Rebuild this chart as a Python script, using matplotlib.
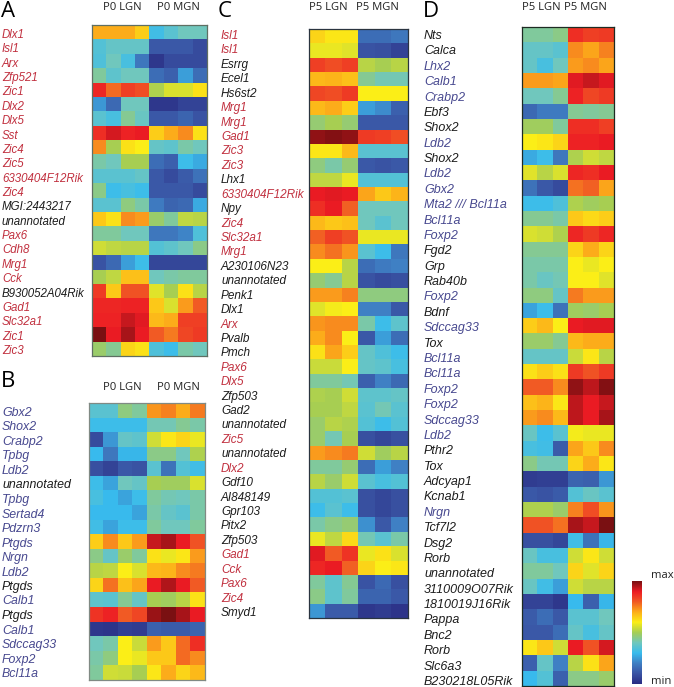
"""
Expression heatmaps for LGN / MGN genes, four panels plus a colour key
"""

import numpy as np
import matplotlib
matplotlib.use('Agg')
import matplotlib.pyplot as plt
from matplotlib.colors import LinearSegmentedColormap

W, H = 674, 687

RED = '#c1303f'
BLUE = '#47488f'
BLACK = '#1c1c1c'

a_genes = ['Dlx1', 'Isl1', 'Arx', 'Zfp521', 'Zic1', 'Dlx2', 'Dlx5', 'Sst', 'Zic4', 'Zic5',
           '6330404F12Rik', 'Zic4', 'MGI:2443217', 'unannotated', 'Pax6', 'Cdh8', 'Mrg1', 'Cck',
           'B930052A04Rik', 'Gad1', 'Slc32a1', 'Zic1', 'Zic3']
a_kinds = 'rrrrrrrrrrrrkkrrrrkrrrr'
a_values = [
    [70, 70, 70, 65, 32, 36, 40, 40],
    [35, 38, 38, 38, 11, 11, 11, 8],
    [34, 40, 33, 18, 3, 8, 8, 8],
    [43, 37, 40, 40, 16, 13, 25, 16],
    [88, 78, 84, 82, 51, 56, 56, 62],
    [24, 15, 40, 40, 3, 3, 6, 6],
    [36, 33, 44, 39, 11, 11, 14, 10],
    [87, 92, 89, 90, 65, 70, 74, 62],
    [74, 50, 62, 60, 38, 37, 42, 40],
    [42, 40, 50, 50, 16, 13, 31, 27],
    [36, 36, 36, 38, 11, 8, 12, 17],
    [45, 31, 33, 31, 11, 11, 11, 8],
    [36, 36, 46, 42, 19, 14, 15, 27],
    [66, 62, 74, 72, 48, 43, 53, 52],
    [43, 43, 40, 40, 18, 18, 21, 34],
    [55, 53, 52, 52, 35, 37, 40, 45],
    [10, 15, 25, 31, 7, 7, 7, 7],
    [50, 53, 67, 67, 40, 42, 43, 43],
    [85, 66, 81, 81, 57, 50, 62, 52],
    [88, 88, 89, 89, 66, 56, 72, 80],
    [89, 89, 93, 91, 68, 70, 84, 84],
    [100, 90, 96, 90, 80, 76, 83, 85],
    [48, 44, 64, 62, 34, 31, 42, 40],
]

b_genes = ['Gbx2', 'Shox2', 'Crabp2', 'Tpbg', 'Ldb2', 'unannotated', 'Tpbg', 'Sertad4', 'Pdzrn3',
           'Ptgds', 'Nrgn', 'Ldb2', 'Ptgds', 'Calb1', 'Ptgds', 'Calb1', 'Sdccag33', 'Foxp2', 'Bcl11a']
b_kinds = 'bbbbbkbbbbbbkbkbbbb'
b_values = [
    [36, 36, 46, 43, 73, 75, 70, 76],
    [31, 31, 31, 31, 41, 41, 44, 42],
    [8, 24, 38, 37, 55, 61, 64, 58],
    [30, 18, 29, 29, 45, 45, 40, 51],
    [9, 6, 11, 10, 36, 17, 35, 32],
    [31, 26, 40, 38, 50, 49, 49, 56],
    [33, 30, 26, 31, 43, 41, 40, 42],
    [30, 30, 30, 26, 42, 38, 36, 42],
    [32, 26, 31, 31, 43, 40, 40, 43],
    [65, 74, 66, 72, 93, 96, 90, 81],
    [45, 38, 48, 43, 62, 58, 61, 72],
    [52, 53, 60, 56, 68, 69, 74, 76],
    [64, 77, 67, 71, 90, 95, 90, 80],
    [37, 36, 44, 38, 50, 49, 52, 62],
    [86, 89, 80, 83, 97, 100, 96, 90],
    [3, 2, 5, 4, 13, 12, 12, 14],
    [40, 42, 60, 54, 72, 66, 78, 87],
    [42, 46, 60, 58, 66, 66, 78, 74],
    [43, 55, 54, 50, 61, 70, 64, 68],
]

c_genes = ['Isl1', 'Isl1', 'Esrrg', 'Ecel1', 'Hs6st2', 'Mrg1', 'Mrg1', 'Gad1', 'Zic3', 'Zic3', 'Lhx1',
           '6330404F12Rik', 'Npy', 'Zic4', 'Slc32a1', 'Mrg1', 'A230106N23', 'unannotated', 'Penk1',
           'Dlx1', 'Arx', 'Pvalb', 'Pmch', 'Pax6', 'Dlx5', 'Zfp503', 'Gad2', 'unannotated', 'Zic5',
           'unannotated', 'Dlx2', 'Gdf10', 'AI848149', 'Gpr103', 'Pitx2', 'Zfp503', 'Gad1', 'Cck',
           'Pax6', 'Zic4', 'Smyd1']
c_kinds = 'rrkkkrrrrrkrkrrrkkkkrkkrrkkkrkrkkkkkrrrrk'
c_values = [
    [64, 61, 61, 16, 16, 18],
    [58, 58, 57, 10, 9, 6],
    [84, 82, 84, 52, 50, 52],
    [68, 69, 67, 44, 41, 41],
    [83, 82, 85, 60, 60, 60],
    [68, 70, 65, 25, 22, 13],
    [47, 50, 47, 11, 11, 11],
    [98, 99, 98, 85, 84, 82],
    [61, 61, 68, 36, 36, 36],
    [46, 42, 47, 11, 10, 11],
    [53, 53, 58, 35, 35, 35],
    [90, 91, 90, 71, 66, 69],
    [87, 90, 79, 40, 40, 40],
    [68, 66, 67, 40, 36, 40],
    [79, 84, 81, 58, 58, 58],
    [74, 77, 73, 36, 31, 18],
    [60, 60, 52, 16, 19, 20],
    [47, 44, 52, 10, 8, 9],
    [72, 72, 75, 46, 46, 46],
    [57, 59, 60, 20, 20, 11],
    [73, 74, 74, 42, 31, 37],
    [70, 74, 60, 11, 25, 16],
    [62, 71, 65, 38, 34, 31],
    [54, 54, 60, 38, 37, 33],
    [43, 43, 41, 13, 20, 15],
    [51, 50, 55, 37, 37, 38],
    [50, 50, 53, 36, 41, 36],
    [48, 52, 51, 35, 31, 35],
    [48, 41, 50, 9, 7, 9],
    [72, 74, 76, 55, 49, 52],
    [43, 43, 47, 16, 25, 20],
    [52, 48, 55, 36, 33, 35],
    [35, 35, 36, 9, 7, 9],
    [31, 36, 31, 9, 7, 9],
    [42, 45, 47, 23, 11, 20],
    [58, 53, 63, 41, 36, 42],
    [91, 80, 86, 58, 62, 56],
    [88, 90, 79, 64, 60, 61],
    [43, 37, 44, 10, 15, 9],
    [45, 37, 43, 14, 14, 11],
    [24, 12, 12, 3, 4, 2],
]

d_genes = ['Nts', 'Calca', 'Lhx2', 'Calb1', 'Crabp2', 'Ebf3', 'Shox2', 'Ldb2', 'Shox2', 'Ldb2', 'Gbx2',
           'Mta2 /// Bcl11a', 'Bcl11a', 'Foxp2', 'Fgd2', 'Grp', 'Rab40b', 'Foxp2', 'Bdnf', 'Sdccag33',
           'Tox', 'Bcl11a', 'Bcl11a', 'Foxp2', 'Foxp2', 'Sdccag33', 'Ldb2', 'Pthr2', 'Tox', 'Adcyap1',
           'Kcnab1', 'Nrgn', 'Tcf7l2', 'Dsg2', 'Rorb', 'unannotated', '3110009O07Rik', '1810019J16Rik',
           'Pappa', 'Bnc2', 'Rorb', 'Slc6a3', 'B230218L05Rik']
d_kinds = 'kkbbbkkbkbbbbbkkkbkbkbbbbbbkkkkbkkkkkkkkkkk'
d_values = [
    [43, 43, 45, 87, 84, 85],
    [38, 38, 36, 74, 71, 75],
    [38, 33, 40, 72, 74, 71],
    [72, 72, 71, 91, 93, 91],
    [40, 40, 44, 89, 83, 85],
    [15, 19, 19, 44, 43, 44],
    [49, 49, 43, 87, 87, 84],
    [60, 61, 64, 89, 89, 90],
    [27, 31, 18, 51, 55, 53],
    [57, 52, 56, 88, 87, 90],
    [17, 11, 8, 77, 79, 71],
    [31, 31, 34, 51, 49, 50],
    [44, 44, 42, 66, 63, 65],
    [56, 55, 51, 88, 85, 88],
    [44, 44, 44, 64, 70, 64],
    [42, 42, 42, 60, 58, 60],
    [42, 39, 41, 60, 60, 57],
    [46, 46, 38, 76, 72, 72],
    [26, 31, 17, 49, 48, 50],
    [65, 68, 60, 90, 91, 91],
    [48, 48, 44, 68, 70, 70],
    [38, 38, 38, 54, 61, 52],
    [62, 65, 62, 85, 81, 85],
    [80, 80, 74, 98, 94, 99],
    [67, 69, 61, 94, 90, 93],
    [72, 74, 68, 94, 90, 96],
    [39, 31, 36, 59, 58, 58],
    [33, 32, 12, 71, 66, 74],
    [45, 41, 41, 64, 70, 61],
    [4, 5, 5, 14, 13, 24],
    [11, 10, 12, 35, 39, 36],
    [51, 51, 48, 75, 82, 73],
    [81, 81, 77, 96, 93, 100],
    [9, 9, 7, 32, 17, 29],
    [39, 33, 33, 55, 61, 55],
    [43, 43, 40, 64, 57, 64],
    [39, 32, 25, 55, 52, 52],
    [6, 6, 3, 30, 13, 29],
    [12, 16, 11, 36, 36, 40],
    [11, 11, 16, 38, 33, 38],
    [61, 66, 55, 90, 81, 92],
    [13, 38, 20, 52, 62, 71],
    [30, 35, 13, 45, 45, 48],
]

# colour ramp of the key, min to max
cmap = LinearSegmentedColormap.from_list('key', [
    (0.00, '#2a2d84'), (0.10, '#3a54a4'), (0.20, '#3f80c4'), (0.30, '#38bcee'),
    (0.40, '#70c7bd'), (0.50, '#a6ce54'), (0.60, '#fbee17'), (0.70, '#fdae1a'),
    (0.80, '#f15a24'), (0.90, '#ed1c24'), (1.00, '#7a1012'),
])

plt.rcParams['font.family'] = ['Liberation Sans', 'DejaVu Sans']
fig = plt.figure(figsize=(W / 100, H / 100), dpi=100)
page = fig.add_axes([0, 0, 1, 1])
page.set_xlim(0, W)
page.set_ylim(H, 0)
page.axis('off')


def pixel_axes(x0, y0, x1, y1):
    return fig.add_axes([x0 / W, 1 - y1 / H, (x1 - x0) / W, (y1 - y0) / H])


def draw_panel(values, genes, kinds, box, label_x, label_ys, size, edge):
    x0, y0, x1, y1 = box
    ax = pixel_axes(x0, y0, x1, y1)
    data = np.array(values, dtype=float)
    ax.imshow(data, cmap=cmap, vmin=0, vmax=100, aspect='auto', interpolation='nearest')
    ax.set_xticks([])
    ax.set_yticks([])
    for s in ax.spines.values():
        s.set_color(edge)
        s.set_linewidth(0.9)

    # label baselines run a little off the cell rows in the original
    baselines = np.linspace(label_ys[0], label_ys[1], len(genes))
    colors = {'r': RED, 'b': BLUE, 'k': BLACK}
    for i, gene in enumerate(genes):
        page.text(label_x, baselines[i], gene, color=colors[kinds[i]],
                  fontsize=size, style='italic', va='baseline', ha='left')


def header(x, y, text):
    page.text(x, y, text, fontsize=8.1, family=['Open Sans', 'DejaVu Sans'], color='#222222',
              ha='center', va='center')


def letter(x, y, text):
    page.text(x, y, text, fontsize=16, family=['Open Sans', 'DejaVu Sans'], color='black',
              ha='left', va='baseline')


draw_panel(a_values, a_genes, a_kinds, (92, 25, 207, 356), 2, (38, 354), 8.3, '#5f6f63')
draw_panel(b_values, b_genes, b_kinds, (89, 403, 205, 680), 2, (416, 677), 8.9, '#808a84')
draw_panel(c_values, c_genes, c_kinds, (309, 29, 408, 618), 221, (39, 616), 8.5, '#2a3440')
draw_panel(d_values, d_genes, d_kinds, (522, 27, 614, 686), 424, (39, 685), 9, '#1d2a22')

letter(1, 17, 'A')
letter(1, 387, 'B')
letter(218, 17, 'C')
letter(423, 17, 'D')

header(122, 8, 'P0 LGN')
header(178, 8, 'P0 MGN')
header(122, 387, 'P0 LGN')
header(178, 387, 'P0 MGN')
header(328, 8, 'P5 LGN')
header(377, 8, 'P5 MGN')
header(541, 8, 'P5 LGN')
header(585, 8, 'P5 MGN')

# colour key
key_ax = pixel_axes(632, 581, 642, 684)
key_ax.imshow(np.linspace(100, 0, 200).reshape(-1, 1), cmap=cmap, vmin=0, vmax=100, aspect='auto')
key_ax.axis('off')
header(662, 576, 'max')
header(661, 682, 'min')

fig.savefig('out.png', dpi=100)
